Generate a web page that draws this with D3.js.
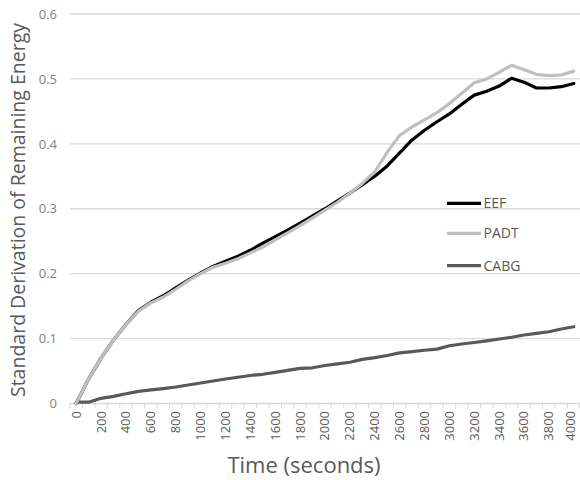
<!DOCTYPE html>
<html>
<head>
<meta charset="utf-8">
<script src="https://cdn.jsdelivr.net/npm/d3@7"></script>
<style>
  html, body { margin: 0; padding: 0; background: #fff; }
  svg { display: block; font-family: "Open Sans", "Noto Sans", sans-serif; }
</style>
</head>
<body>
<svg id="chart" width="580" height="480"></svg>
<script>
const times = [0,100,200,300,400,500,600,700,800,900,1000,1100,1200,1300,1400,1500,1600,1700,1800,1900,2000,
  2100,2200,2300,2400,2500,2600,2700,2800,2900,3000,3100,3200,3300,3400,3500,3600,3700,3800,3900,4000];
const eef = [0,0.038,0.070,0.098,0.122,0.143,0.156,0.166,0.178,0.190,0.201,0.211,0.219,0.227,0.236,0.247,0.257,0.267,0.278,0.289,0.300,
  0.312,0.324,0.337,0.350,0.366,0.386,0.406,0.421,0.434,0.446,0.461,0.475,0.481,0.489,0.501,0.495,0.486,0.486,0.488,0.493];
const padt = [0,0.038,0.070,0.098,0.122,0.142,0.155,0.164,0.176,0.189,0.200,0.210,0.216,0.223,0.232,0.241,0.252,0.263,0.274,0.286,0.298,
  0.310,0.324,0.339,0.357,0.387,0.413,0.426,0.437,0.448,0.462,0.478,0.494,0.500,0.510,0.521,0.514,0.507,0.505,0.506,0.512];
const cabg = [0.002,0.002,0.008,0.011,0.015,0.0186,0.021,0.023,0.0254,0.0285,0.0316,0.0347,0.0378,0.0404,0.0431,0.045,0.048,0.051,0.054,0.055,0.0585,
  0.061,0.0635,0.068,0.0707,0.074,0.078,0.080,0.082,0.0837,0.089,0.0917,0.094,0.0965,0.0994,0.102,0.1055,0.108,0.1105,0.1148,0.1183];
const yTicks = [0, 0.1, 0.2, 0.3, 0.4, 0.5, 0.6];
const yTickLabels = ["0", "0.1", "0.2", "0.3", "0.4", "0.5", "0.6"];
const seriesNames = ["EEF", "PADT", "CABG"];
const seriesColors = ["#000000", "#bfbfbf", "#595959"];
const xLabelStep = 200;

(function () {
const svg = d3.select("#chart");
const pLeft = 70, pRight = 580, pTop = 14, pBottom = 403.5;

const x = d3.scaleBand().domain(times).range([pLeft, pRight]).padding(0);
const y = d3.scaleLinear().domain([0, 0.6]).range([pBottom, pTop]);
const cx = t => x(t) + x.bandwidth() / 2;

// gridlines
svg.append("g").selectAll("line").data(yTicks.filter(d => d > 0)).join("line")
  .attr("x1", pLeft).attr("x2", pRight)
  .attr("y1", d => y(d)).attr("y2", d => y(d))
  .attr("stroke", "#d9d9d9").attr("stroke-width", 1.3);

// y labels
svg.append("g").selectAll("text").data(yTicks).join("text")
  .attr("x", 57).attr("y", d => y(d)).attr("dy", "0.36em")
  .attr("text-anchor", "end").attr("font-size", 13).attr("fill", "#808080")
  .text((d, i) => yTickLabels[i]);

// x axis line + ticks
svg.append("line").attr("x1", pLeft).attr("x2", pRight).attr("y1", pBottom).attr("y2", pBottom)
  .attr("stroke", "#d9d9d9").attr("stroke-width", 1.3);
svg.append("g").selectAll("line").data(times.concat(["end"])).join("line")
  .attr("x1", d => d === "end" ? pRight - 0.5 : x(d))
  .attr("x2", d => d === "end" ? pRight - 0.5 : x(d))
  .attr("y1", pBottom).attr("y2", pBottom + 5)
  .attr("stroke", "#d9d9d9").attr("stroke-width", 1);

// x labels rotated
svg.append("g").selectAll("text").data(times.filter(t => t % xLabelStep === 0)).join("text")
  .attr("transform", d => `translate(${Math.min(cx(d), 571)},411) rotate(-90)`)
  .attr("dy", "0.34em")
  .attr("text-anchor", "end").attr("font-size", 13).attr("fill", "#595959")
  .text(d => d);

// lines
const line = d3.line().x((d, i) => cx(times[i])).y(d => y(d));
[[cabg, 2], [eef, 0], [padt, 1]].forEach(([data, k]) => {
  svg.append("path").datum(data).attr("d", line)
    .attr("fill", "none").attr("stroke", seriesColors[k])
    .attr("stroke-width", 3.2).attr("stroke-linejoin", "round").attr("stroke-linecap", "round");
});

// legend
const legendY = [203.3, 233.3, 265.7];
const lg = svg.append("g");
seriesNames.forEach((name, i) => {
  lg.append("line").attr("x1", 447).attr("x2", 481).attr("y1", legendY[i]).attr("y2", legendY[i])
    .attr("stroke", seriesColors[i]).attr("stroke-width", 3.2);
  lg.append("text").attr("x", 483.5).attr("y", legendY[i]).attr("dy", "0.36em")
    .attr("font-size", 14).attr("fill", "#595959").text(name);
});

// axis titles
svg.append("text").attr("x", 304).attr("y", 473).attr("text-anchor", "middle")
  .attr("font-size", 22).attr("fill", "#595959").text("Time (seconds)");
svg.append("text").attr("transform", "translate(25,210) rotate(-90)").attr("text-anchor", "middle")
  .attr("font-size", 19.5).attr("fill", "#595959").text("Standard Derivation of Remaining Energy");
})();
</script>
</body>
</html>
